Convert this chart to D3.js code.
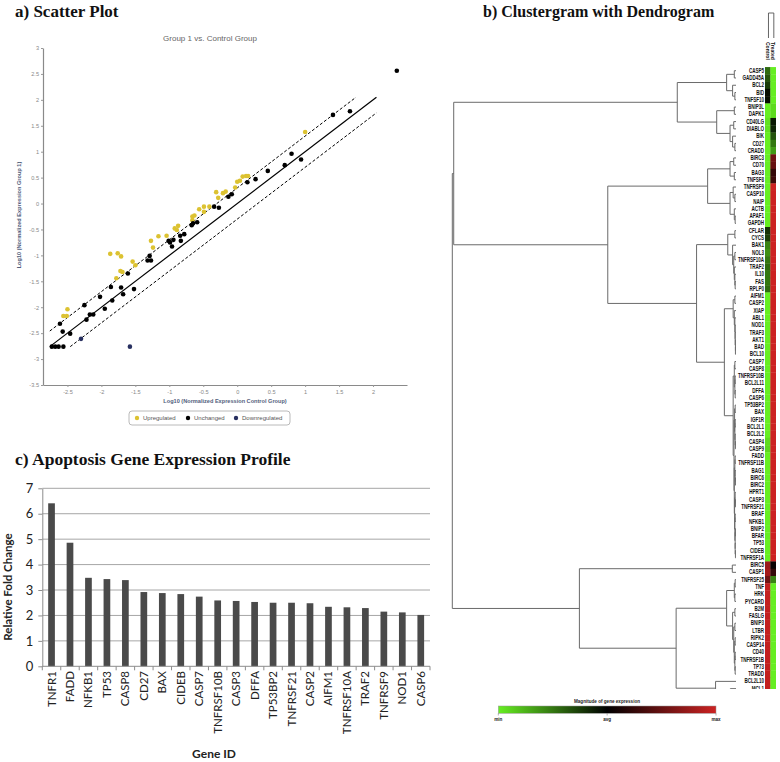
<!DOCTYPE html>
<html><head><meta charset="utf-8">
<script src="https://cdn.jsdelivr.net/npm/d3@7"></script>
<style>body{margin:0;background:#fff}svg{display:block}</style>
</head><body>
<svg id="chart" width="780" height="762"></svg>
<script>
// ---------------- DATA ----------------
// a) scatter plot: [log10 control, log10 group 1]
const upregulated = [[-2.56,-2.17],[-2.51,-2.17],[-2.50,-2.04],[-1.87,-0.97],[-1.76,-0.96],[-1.71,-1.02],[-1.78,-1.44],[-1.72,-1.30],[-1.69,-1.32],[-1.54,-1.12],[-1.50,-1.19],[-1.27,-0.72],[-1.24,-0.85],[-1.16,-0.63],[-1.04,-0.62],[-0.92,-0.48],[-0.87,-0.43],[-0.89,-0.51],[-0.66,-0.25],[-0.63,-0.23],[-0.66,-0.32],[-0.56,-0.11],[-0.49,-0.06],[-0.49,-0.16],[-0.41,-0.06],[-0.31,0.22],[-0.28,0.11],[-0.21,0.20],[-0.17,0.23],[-0.03,0.31],[0.00,0.42],[0.04,0.44],[0.08,0.52],[0.13,0.53],[0.16,0.53],[1.00,1.38]];
const unchanged = [[-2.73,-2.76],[-2.68,-2.76],[-2.63,-2.76],[-2.56,-2.76],[-2.61,-2.32],[-2.57,-2.47],[-2.46,-2.51],[-2.25,-1.96],[-2.22,-2.24],[-2.17,-2.14],[-2.12,-2.14],[-2.02,-1.80],[-1.95,-2.03],[-1.86,-1.61],[-1.84,-1.87],[-1.71,-1.62],[-1.68,-1.75],[-1.61,-1.35],[-1.52,-1.65],[-1.32,-1.10],[-1.27,-1.10],[-1.29,-1.01],[-1.01,-0.72],[-0.96,-0.83],[-0.94,-0.70],[-0.99,-0.75],[-0.84,-0.62],[-0.83,-0.72],[-0.78,-0.59],[-0.67,-0.42],[-0.65,-0.38],[-0.59,-0.36],[-0.34,-0.06],[-0.27,-0.08],[-0.13,0.13],[-0.08,0.18],[0.15,0.41],[0.27,0.47],[0.45,0.63],[0.70,0.74],[0.80,0.96],[0.94,0.85],[1.41,1.71],[1.66,1.78],[2.35,2.56]];
const downregulated = [[-2.30,-2.61],[-1.58,-2.76]];
const scatterXTicks = [-2.5,-2,-1.5,-1,-0.5,0,0.5,1,1.5,2];
const scatterYTicks = [-3.5,-3,-2.5,-2,-1.5,-1,-0.5,0,0.5,1,1.5,2,2.5,3];
const foldOffsets = [0, 0.301, -0.301];
const foldLineRange = [-2.76, 2.05];
const legendItems = ["Upregulated","Unchanged","Downregulated"];

// c) bar chart
const barGenes = ["TNFR1","FADD","NFKB1","TP53","CASP8","CD27","BAX","CIDEB","CASP7","TNFRSF10B","CASP3","DFFA","TP53BP2","TNFRSF21","CASP2","AIFM1","TNFRSF10A","TRAF2","TNFRSF9","NOD1","CASP6"];
const foldChange = [6.41,4.86,3.48,3.43,3.39,2.92,2.88,2.84,2.74,2.59,2.57,2.53,2.50,2.50,2.48,2.34,2.32,2.29,2.15,2.12,2.02];
const barTicks = [0,1,2,3,4,5,6,7];

// b) clustergram
const heatGenes = ["CASP5","GADD45A","BCL2","BID","TNFSF10","BNIP3L","DAPK1","CD40LG","DIABLO","BIK","CD27","CRADD","BIRC3","CD70","BAG3","TNFSF8","TNFRSF9","CASP10","NAIP","ACTB","APAF1","GAPDH","CFLAR","CYCS","BAK1","NOL3","TNFRSF10A","TRAF2","IL10","FAS","RPLP0","AIFM1","CASP2","XIAP","ABL1","NOD1","TRAF3","AKT1","BAD","BCL10","CASP7","CASP8","TNFRSF10B","BCL2L11","DFFA","CASP6","TP53BP2","BAX","IGF1R","BCL2L1","BCL2L2","CASP4","CASP9","FADD","TNFRSF11B","BAG1","BIRC6","BIRC2","HPRT1","CASP3","TNFRSF21","BRAF","NFKB1","BNIP2","BFAR","TP53","CIDEB","TNFRSF1A","BIRC5","CASP1","TNFRSF25","TNF","HRK","PYCARD","B2M","FASLG","BNIP3","LTBR","RIPK2","CASP14","CD40","TNFRSF1B","TP73","TRADD","BCL2L10","MCL1","BCL2A1","CIDEA","LTA"];
const heatColumns = ["Control","Treated"];
const controlValues = [-0.45,-0.35,-0.25,-0.05,-0.05,-1,-1,-0.95,-0.95,-1,-1,-1,-1,-1,-1,-1,-1,-1,-1,-1,-1,-1,-0.2,-0.25,-0.55,-0.6,-0.5,-0.45,-0.5,-0.5,-0.45,
 -1,-1,-1,-1,-1,-1,-1,-1,-1,-1,-1,-1,-1,-1,-1,-1,-1,-1,-1,-1,-0.92,-0.9,-1,-1,-1,-1,-1,-1,-1,-1,-1,-1,-1,-1,-1,-1,-1,
 0.75,0.8,0.55,0.95,0.95,0.95,0.95,0.95,0.95,0.95,0.95,0.95,0.95,0.95,0.95,0.95,0.95,0.95,0.95,0.95,0.95];
const treatedValues = [-1,-1,-1,-1,-1,-0.92,-0.92,-0.1,-0.15,-0.35,-0.5,-0.65,0.55,0.5,0.25,0.3,
 1,1,1,1,1,1,1,1,1,1,1,1,1,1,1,1,1,1,1,1,1,1,1,1,1,1,1,1,1,1,1,1,1,1,1,1,1,1,1,1,1,1,1,1,1,1,1,1,1,1,1,1,
 0.05,0.25,-0.55,-1,-1,-1,-1,-1,-1,-1,-1,-1,-1,-1,-1,-1,-1,-1,-1,-1,-1];
// dendrogram: [height, left, right]; leaves are gene names
const dendroTree = [1.0,
  [0.995,
    [0.207,
      [0.033,[0.006,"CASP5","GADD45A"],[0.012,"BCL2",[0.004,"BID","TNFSF10"]]],
      [0.068,[0.006,"BNIP3L","DAPK1"],[0.021,[0.008,"CD40LG","DIABLO"],[0.012,"BIK",[0.004,"CD27","CRADD"]]]]
    ],
    [0.452,
      [0.10,
        [0.021,[0.008,"BIRC3","CD70"],[0.006,"BAG3","TNFSF8"]],
        [0.021,[0.01,"TNFRSF9",[0.004,"CASP10","NAIP"]],[0.006,"ACTB",[0.003,"APAF1","GAPDH"]]]
      ],
      [0.139,
        [0.029,[0.004,"CFLAR","CYCS"],[0.012,"BAK1",[0.008,[0.004,"NOL3","TNFRSF10A"],[0.006,"TRAF2",[0.004,"IL10",[0.003,"FAS","RPLP0"]]]]]],
        [0.041,
          [0.01,[0.004,"AIFM1","CASP2"],[0.006,"XIAP",[0.004,"ABL1",[0.003,"NOD1",[0.003,"TRAF3",[0.002,"AKT1",[0.002,"BAD","BCL10"]]]]]]],
          [0.01,
            [0.006,[0.004,"CASP7","CASP8"],[0.004,[0.003,"TNFRSF10B","BCL2L11"],[0.003,"DFFA","CASP6"]]],
            [0.007,
              [0.005,[0.003,"TP53BP2","BAX"],[0.004,[0.003,"IGF1R","BCL2L1"],[0.003,"BCL2L2",[0.002,"CASP4","CASP9"]]]],
              [0.006,
                [0.004,[0.003,"FADD","TNFRSF11B"],[0.003,"BAG1",[0.002,"BIRC6","BIRC2"]]],
                [0.005,[0.003,"HPRT1",[0.002,"CASP3","TNFRSF21"]],[0.004,[0.003,"BRAF","NFKB1"],[0.003,[0.002,"BNIP2","BFAR"],[0.003,"TP53",[0.002,"CIDEB","TNFRSF1A"]]]]]
              ]
            ]
          ]
        ]
      ]
    ]
  ],
  [0.552,
    [0.013,"BIRC5","CASP1"],
    [0.211,
      [0.033,[0.006,[0.003,"TNFRSF25","TNF"],[0.004,"HRK","PYCARD"]],[0.012,[0.004,"B2M","FASLG"],[0.008,[0.004,"BNIP3","LTBR"],[0.006,[0.003,"RIPK2","CASP14"],[0.004,[0.003,"CD40","TNFRSF1B"],[0.003,"TP73","TRADD"]]]]]],
      [0.072,"BCL2L10",[0.02,"MCL1",[0.01,"BCL2A1",[0.005,"CIDEA","LTA"]]]]
    ]
  ]
];
const colorbarLabels = ["min","avg","max"];

// ---------------- DRAW ----------------
const svg = d3.select("#chart");
const serif = "'Liberation Serif','Times New Roman',serif";
const sans = "'Liberation Sans',Arial,sans-serif";
const calib = "Lato,'Open Sans',sans-serif";

// titles
svg.append("text").attr("x",15).attr("y",17).text("a) Scatter Plot")
  .attr("font-family",serif).attr("font-weight","bold").attr("font-size",17).attr("fill","#111");
svg.append("text").attr("x",483).attr("y",17).text("b) Clustergram with Dendrogram")
  .attr("font-family",serif).attr("font-weight","bold").attr("font-size",16).attr("fill","#111");
svg.append("text").attr("x",15).attr("y",465).text("c) Apoptosis Gene Expression Profile")
  .attr("font-family",serif).attr("font-weight","bold").attr("font-size",17.5).attr("fill","#111");

// ===== a) scatter =====
const sx = d3.scaleLinear().domain([-2.86,2.5]).range([43,407]);
const sy = d3.scaleLinear().domain([-3.5,3]).range([385,48]);
const ga = svg.append("g");
ga.append("text").attr("x",210).attr("y",41).attr("text-anchor","middle")
  .attr("font-family",sans).attr("font-size",8).attr("fill","#666").text("Group 1 vs. Control Group");

const yAx = ga.append("g").attr("transform","translate(43,0)")
  .call(d3.axisLeft(sy).tickValues(scatterYTicks).tickFormat(d=>String(d)).tickSize(2).tickSizeOuter(0).tickPadding(2));
const xAx = ga.append("g").attr("transform","translate(0,385)")
  .call(d3.axisBottom(sx).tickValues(scatterXTicks).tickFormat(d=>String(d)).tickSize(2).tickSizeOuter(0).tickPadding(3));
[yAx,xAx].forEach(a=>{
  a.select(".domain").attr("stroke","#8a8a8a").attr("stroke-width",1.2);
  a.selectAll(".tick line").attr("stroke","#999");
  a.selectAll(".tick text").attr("font-family",sans).attr("font-size",5.6).attr("fill","#888");
});
ga.append("text").attr("transform","translate(21,215) rotate(-90)").attr("text-anchor","middle")
  .attr("font-family",sans).attr("font-weight","bold").attr("font-size",5.6).attr("fill","#52607c")
  .text("Log10 (Normalized Expression Group 1)");
ga.append("text").attr("x",225).attr("y",403).attr("text-anchor","middle")
  .attr("font-family",sans).attr("font-weight","bold").attr("font-size",5.6).attr("fill","#52607c")
  .text("Log10 (Normalized Expression Control Group)");

// fold lines
foldOffsets.forEach(o=>{
  const x0 = Math.max(foldLineRange[0], foldLineRange[0]-o);
  const x1 = Math.min(foldLineRange[1], foldLineRange[1]-o);
  ga.append("line").attr("x1",sx(x0)).attr("y1",sy(x0+o)).attr("x2",sx(x1)).attr("y2",sy(x1+o))
    .attr("stroke","#000").attr("stroke-width",o===0?1.2:1)
    .attr("stroke-dasharray",o===0?null:"3,2");
});
const pointSets = [[upregulated,"#dcc231"],[unchanged,"#000000"],[downregulated,"#283060"]];
pointSets.forEach(([pts,col])=>{
  ga.append("g").selectAll("circle").data(pts).join("circle")
    .attr("cx",d=>sx(d[0])).attr("cy",d=>sy(d[1])).attr("r",2.3).attr("fill",col);
});
// legend
const lg = ga.append("g");
lg.append("rect").attr("x",129).attr("y",411).attr("width",161).attr("height",14).attr("rx",3)
  .attr("fill","#fff").attr("stroke","#a8a8a8").attr("stroke-width",0.8);
const legX = [137,188,236];
legendItems.forEach((t,i)=>{
  lg.append("circle").attr("cx",legX[i]).attr("cy",418).attr("r",2.2).attr("fill",pointSets[i][1]);
  lg.append("text").attr("x",legX[i]+6).attr("y",420).attr("font-family",sans).attr("font-size",6)
    .attr("fill","#555").text(t);
});

// ===== c) bar chart =====
const bx = d3.scaleBand().domain(barGenes).range([42.3,430]).paddingInner(0.637).paddingOuter(0.3185);
const by = d3.scaleLinear().domain([0,7]).range([666.3,488.3]);
const gc = svg.append("g");
gc.append("g").selectAll("line").data(barTicks.slice(1)).join("line")
  .attr("x1",42.3).attr("x2",430).attr("y1",d=>by(d)).attr("y2",d=>by(d))
  .attr("stroke","#a6a6a6").attr("stroke-width",1);
gc.append("g").selectAll("rect").data(barGenes).join("rect")
  .attr("x",d=>bx(d)).attr("width",bx.bandwidth())
  .attr("y",(d,i)=>by(foldChange[i])).attr("height",(d,i)=>by(0)-by(foldChange[i]))
  .attr("fill","#4a4a4a");
const byAx = gc.append("g").attr("transform","translate(42.3,0)")
  .call(d3.axisLeft(by).tickValues(barTicks).tickFormat(d=>String(d)).tickSize(4).tickSizeOuter(0).tickPadding(5));
byAx.select(".domain").attr("stroke","#8c8c8c");
byAx.selectAll(".tick line").attr("stroke","#8c8c8c");
byAx.selectAll(".tick text").attr("font-family",calib).attr("font-size",13).attr("fill","#222");
// x axis line and tick marks between bands
gc.append("line").attr("x1",42.3).attr("x2",430).attr("y1",by(0)).attr("y2",by(0)).attr("stroke","#8c8c8c");
gc.append("g").selectAll("line").data(d3.range(barGenes.length+1)).join("line")
  .attr("x1",k=>42.3+k*bx.step()).attr("x2",k=>42.3+k*bx.step())
  .attr("y1",by(0)).attr("y2",by(0)+4).attr("stroke","#8c8c8c");
gc.append("g").selectAll("text").data(barGenes).join("text")
  .attr("transform",d=>`translate(${bx(d)+bx.bandwidth()/2+4},671) rotate(-90)`)
  .attr("text-anchor","end").attr("font-family",calib).attr("font-size",11.5).attr("fill","#222")
  .text(d=>d);
gc.append("text").attr("transform","translate(12,587) rotate(-90)").attr("text-anchor","middle")
  .attr("font-family",calib).attr("font-weight","bold").attr("font-size",11.5).attr("fill","#222")
  .text("Relative Fold Change");
gc.append("text").attr("x",214).attr("y",758).attr("text-anchor","middle")
  .attr("font-family",calib).attr("font-weight","bold").attr("font-size",12).attr("fill","#222")
  .text("Gene ID");

// ===== b) clustergram =====
const gb = svg.append("g");
const defs = svg.append("defs");
defs.append("clipPath").attr("id","hclip").append("rect").attr("x",440).attr("y",0).attr("width",340).attr("height",689);
const rowBand = d3.scaleBand().domain(heatGenes).range([67.07, 67.07 + heatGenes.length*7.27]);
const colBand = d3.scaleBand().domain(heatColumns).range([765,775.7]);
const heatColor = d3.scaleLinear().domain([-1,0,1]).range(["#66ee22","#000000","#cc2222"]);
const hx = d3.scaleLinear().domain([0,1]).range([736,452.3]);
const clipG = gb.append("g").attr("clip-path","url(#hclip)");

const cells = [];
heatGenes.forEach((g,i)=>{ cells.push({g,c:"Control",v:controlValues[i]}); cells.push({g,c:"Treated",v:treatedValues[i]}); });
clipG.append("g").selectAll("rect").data(cells).join("rect")
  .attr("x",d=>colBand(d.c)).attr("y",d=>rowBand(d.g)).attr("width",colBand.bandwidth()+0.3)
  .attr("height",rowBand.bandwidth()+0.3).attr("fill",d=>heatColor(d.v));

clipG.append("g").selectAll("text").data(heatGenes).join("text")
  .attr("transform",d=>`translate(764,${rowBand(d)+rowBand.bandwidth()/2+2.1}) scale(0.72,1)`)
  .attr("text-anchor","end").attr("font-family",sans).attr("font-weight","bold").attr("font-size",6.3)
  .attr("fill","#111").text(d=>d);

// dendrogram
const segs = [];
function layout(node){
  if (typeof node === "string") return {x:hx(0), y:rowBand(node)+rowBand.bandwidth()/2};
  const [h,l,r] = node;
  const a = layout(l), b = layout(r), x = hx(h);
  segs.push([x,a.y,x,b.y],[x,a.y,a.x,a.y],[x,b.y,b.x,b.y]);
  return {x, y:(a.y+b.y)/2};
}
layout(dendroTree);
clipG.append("g").selectAll("line").data(segs).join("line")
  .attr("x1",d=>d[0]).attr("y1",d=>d[1]).attr("x2",d=>d[2]).attr("y2",d=>d[3])
  .attr("stroke","#6a6a6a").attr("stroke-width",1);

// column dendrogram + labels
const cc = heatColumns.map(c=>colBand(c)+colBand.bandwidth()/2+0.8);
gb.append("path").attr("d",`M${cc[0]},38V13H${cc[1]}V38`).attr("fill","none").attr("stroke","#555").attr("stroke-width",0.9);
gb.append("g").selectAll("text").data(heatColumns).join("text")
  .attr("transform",d=>`translate(${colBand(d)+colBand.bandwidth()/2-1.6},42) rotate(90)`)
  .attr("font-family",sans).attr("font-weight","bold").attr("font-size",5).attr("fill","#111").text(d=>d);

// colour bar
const grad = defs.append("linearGradient").attr("id","cbar");
grad.selectAll("stop").data([-1,0,1]).join("stop")
  .attr("offset",d=>`${(d+1)*50}%`).attr("stop-color",d=>heatColor(d));
const cbx = d3.scaleLinear().domain([0,colorbarLabels.length-1]).range([498.3,716]);
gb.append("text").attr("x",607).attr("y",703).attr("text-anchor","middle").attr("font-family",sans)
  .attr("font-weight","bold").attr("font-size",4.6).attr("fill","#222").text("Magnitude of gene expression");
gb.append("rect").attr("x",498.3).attr("y",706).attr("width",217.7).attr("height",7.3)
  .attr("fill","url(#cbar)").attr("stroke","#999").attr("stroke-width",0.5);
gb.append("g").selectAll("text").data(colorbarLabels).join("text")
  .attr("x",(d,i)=>cbx(i)).attr("y",720.5).attr("text-anchor","middle").attr("font-family",sans)
  .attr("font-weight","bold").attr("font-size",4.6).attr("fill","#222").text(d=>d);
gb.append("g").selectAll("line").data(colorbarLabels).join("line")
  .attr("x1",(d,i)=>cbx(i)).attr("x2",(d,i)=>cbx(i)).attr("y1",713.3).attr("y2",715.5)
  .attr("stroke","#666").attr("stroke-width",0.5);
</script>
</body></html>
